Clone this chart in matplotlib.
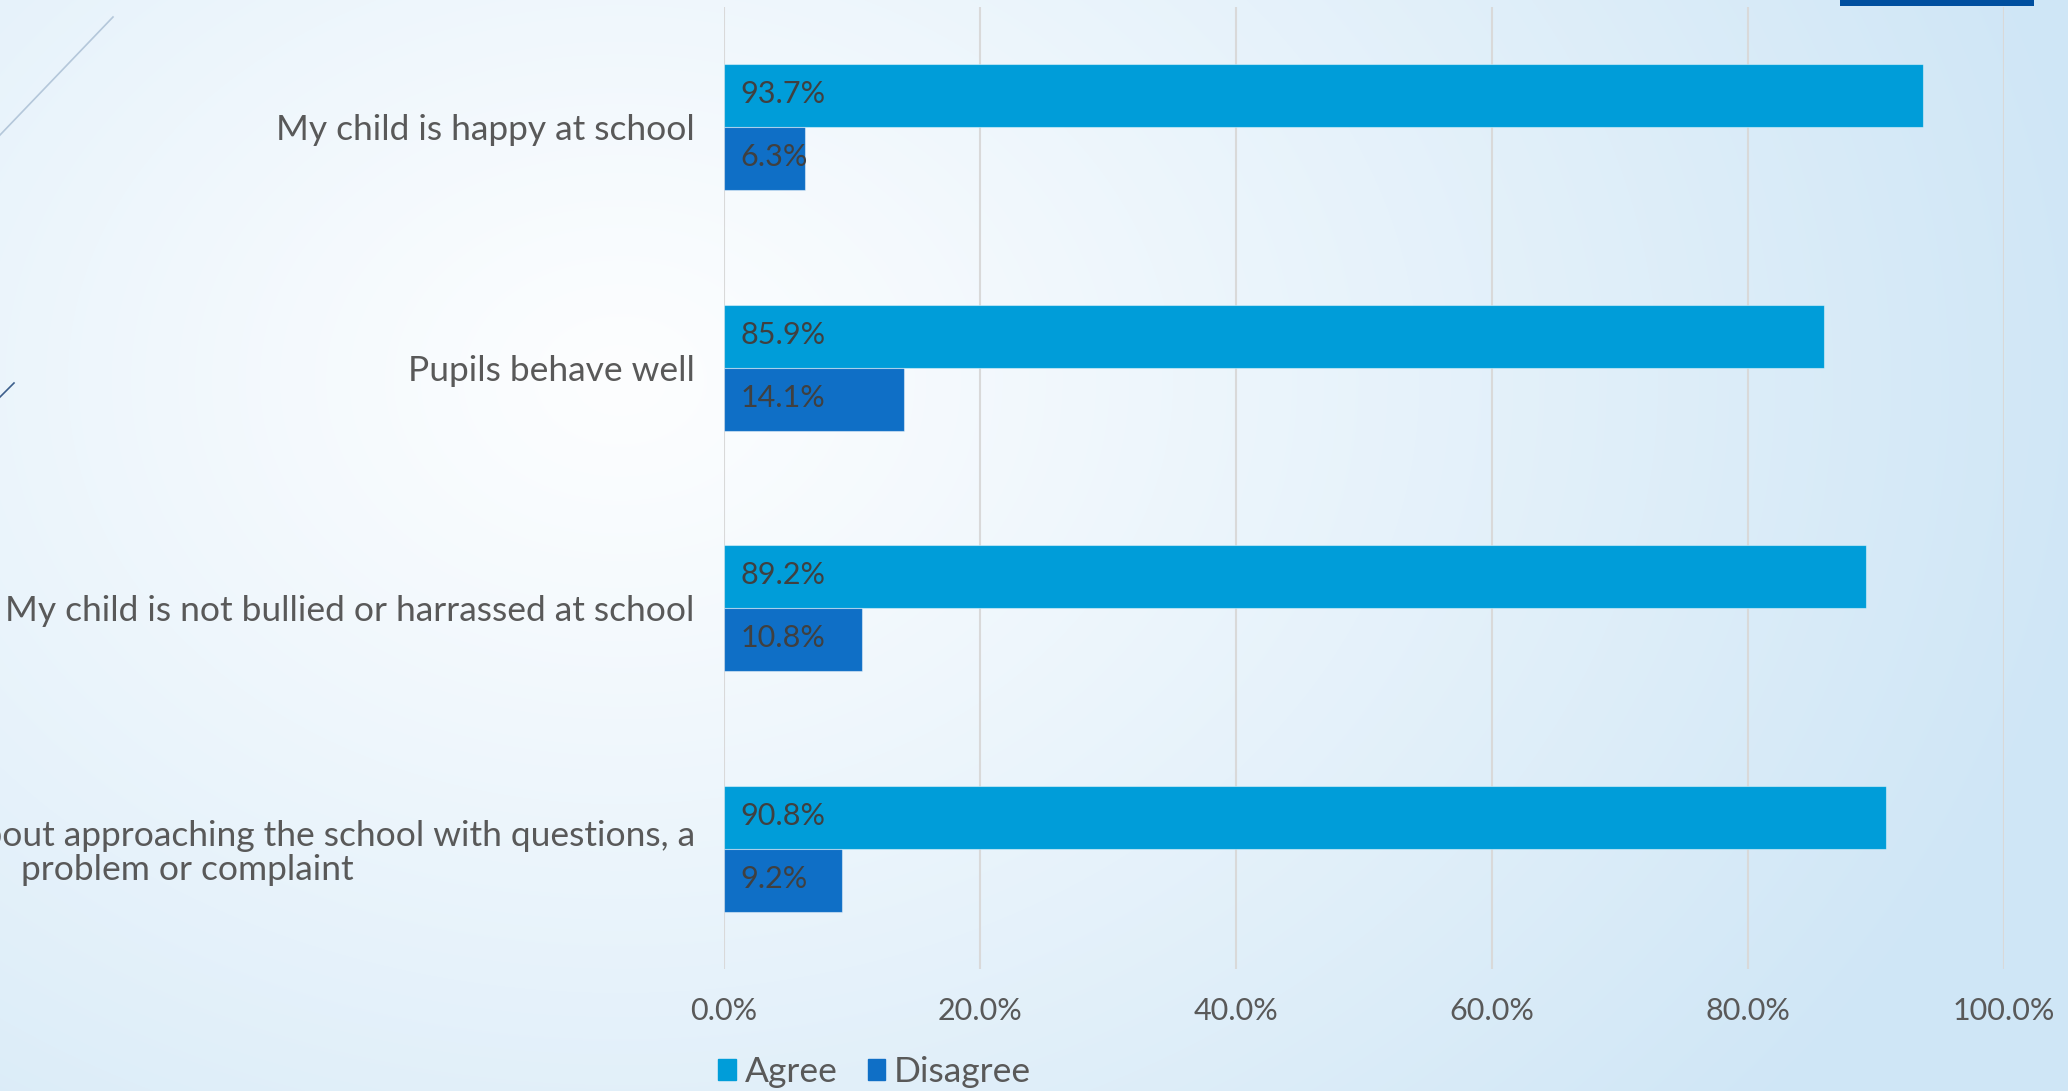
import numpy as np
import matplotlib
matplotlib.use("Agg")
import matplotlib.pyplot as plt
from matplotlib.patches import Patch, Rectangle
from matplotlib.lines import Line2D
from matplotlib.ticker import FuncFormatter

# survey results (percent of respondents)
categories = [
    "My child is happy at school",
    "Pupils behave well",
    "My child is not bullied or harrassed at school",
    "I feel comfortable about approaching the school with questions, a\nproblem or complaint",
]
agree = [93.7, 85.9, 89.2, 90.8]
disagree = [6.3, 14.1, 10.8, 9.2]
xticks = [0, 20, 40, 60, 80, 100]

AGREE_C = "#009DD9"
DISAGREE_C = "#0F6FC6"
TXT = "#595959"
W, H = 2068, 1091

plt.rcParams["font.family"] = ["Lato", "DejaVu Sans"]
fig = plt.figure(figsize=(W / 100, H / 100), dpi=100)

# slide background: soft radial gradient, white-ish centre, light blue edges
bg = fig.add_axes([0, 0, 1, 1], zorder=-10)
yy, xx = np.mgrid[0:H, 0:W]
t = np.sqrt(((xx - 620) / 1500.0) ** 2 + ((yy - 380) / 1150.0) ** 2)
t = np.clip(t, 0, 1) ** 1.1
t = t[..., None]
c0 = np.array([0xfd, 0xfe, 0xff]) / 255.0
c1 = np.array([0xcf, 0xe6, 0xf6]) / 255.0
bg.imshow(c0 * (1 - t) + c1 * t, aspect="auto", extent=(0, W, H, 0))
bg.set_xlim(0, W); bg.set_ylim(H, 0)
bg.axis("off")
# decorative strokes from the slide template
bg.add_line(Line2D([113, 0], [17, 135], color="#b4c7da", lw=1.2))
bg.add_line(Line2D([14, 0], [383, 397], color="#3d5f8c", lw=1.2))
bg.add_patch(Rectangle((1840, 0), 194, 6, color="#004f9f", lw=0))

ax = fig.add_axes([724 / W, 1 - 969 / H, (2004 - 724) / W, (969 - 7) / H])
ax.patch.set_alpha(0)
y = np.arange(len(categories))
bh = 0.262
ax.barh(y - bh / 2, agree, height=bh, color=AGREE_C, edgecolor=(1, 1, 1, 0.45), lw=0.8, zorder=3, label="Agree")
ax.barh(y + bh / 2, disagree, height=bh, color=DISAGREE_C, edgecolor=(1, 1, 1, 0.45), lw=0.8, zorder=3, label="Disagree")

for yi, a, d in zip(y, agree, disagree):
    ax.annotate(f"{a:.1f}%", (0, yi - bh / 2), xytext=(12, 1), textcoords="offset points",
                va="center", ha="left", fontsize=22, color="#404040", zorder=4)
    ax.annotate(f"{d:.1f}%", (0, yi + bh / 2), xytext=(12, 1), textcoords="offset points",
                va="center", ha="left", fontsize=22, color="#404040", zorder=4)

ax.set_xlim(0, 100)
ax.set_ylim(len(categories) - 0.5, -0.5)
ax.set_xticks(xticks)
ax.xaxis.set_major_formatter(FuncFormatter(lambda v, p: f"{v:.1f}%"))
ax.set_yticks(y)
ax.set_yticklabels(categories, multialignment="center", linespacing=1.1)
ax.tick_params(axis="both", length=0, labelcolor=TXT)
ax.tick_params(axis="x", pad=20, labelsize=22)
ax.tick_params(axis="y", pad=21, labelsize=25.5)
ax.grid(axis="x", color="#d9d9d9", lw=1.5, zorder=0)
for s in ax.spines.values():
    s.set_visible(False)

handles = [Patch(color=AGREE_C, label="Agree"), Patch(color=DISAGREE_C, label="Disagree")]
fig.legend(handles=handles, loc="center left", bbox_to_anchor=(718 / W, 1 - 1072 / H),
           ncol=2, frameon=False, fontsize=25.5, labelcolor=TXT, handlelength=0.5,
           handleheight=0.5, handletextpad=0.25, columnspacing=0.85, borderpad=0,
           borderaxespad=0)

fig.savefig("out.png", dpi=100)
